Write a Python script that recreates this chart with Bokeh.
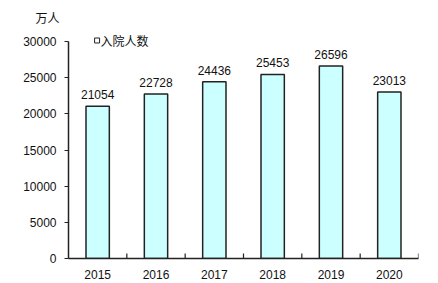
from bokeh.plotting import figure
from bokeh.models import ColumnDataSource, LabelSet, Label, FixedTicker, Range1d
from bokeh.core.properties import value
from bokeh.embed import file_html
from bokeh.resources import INLINE

years = ["2015", "2016", "2017", "2018", "2019", "2020"]
inpatients = [21054, 22728, 24436, 25453, 26596, 23013]
y_ticks = [0, 5000, 10000, 15000, 20000, 25000, 30000]
unit_label = "万人"
legend_label = "入院人数"

FONT = "Liberation Sans"
CJK = "Noto Sans CJK SC"

src = ColumnDataSource(dict(x=years, y=inpatients, txt=[str(v) for v in inpatients]))

TOP = 25
y_end = 30000 * (258 - TOP) / 217.0

p = figure(x_range=years, y_range=Range1d(0, y_end), width=438, height=283,
           output_backend="svg", toolbar_location=None,
           min_border_left=68, min_border_right=20, min_border_top=TOP, min_border_bottom=25,
           title=unit_label)
p.outline_line_color = None
p.grid.grid_line_color = None
p.background_fill_color = "white"
p.border_fill_color = "white"

p.title.text_font = CJK
p.title.text_font_size = "12px"
p.title.text_font_style = "normal"
p.title.text_color = "#111111"
p.title.align = "left"
p.title.offset = -33
p.title.standoff = 0

p.vbar(x="x", top="y", width=0.4, source=src, fill_color="#CCFFFF",
       line_color="#222222", line_width=1.5)

p.add_layout(LabelSet(x="x", y="y", text="txt", source=src, y_offset=7,
                      text_align="center", text_baseline="bottom",
                      text_font=value(FONT), text_font_size="12px", text_color="#111111"))

# y axis
ya = p.yaxis[0]
ya.ticker = FixedTicker(ticks=y_ticks)
ya.bounds = (0, 30000)
ya.axis_line_color = "#222222"
ya.axis_line_width = 1.5
ya.major_tick_out = 4
ya.major_tick_in = 0
ya.minor_tick_line_color = None
ya.major_tick_line_color = "#222222"
ya.major_label_text_font = FONT
ya.major_label_text_font_size = "12px"
ya.major_label_text_color = "#111111"
ya.major_label_standoff = 8

# x axis
xa = p.xaxis[0]
xa.axis_line_color = "#222222"
xa.axis_line_width = 1.5
xa.major_tick_line_color = None
xa.major_label_text_font = FONT
xa.major_label_text_font_size = "12px"
xa.major_label_text_color = "#111111"
xa.major_label_standoff = 5

# category boundary ticks pointing up
p.segment(x0=list(range(1, 7)), x1=list(range(1, 7)), y0=[0] * 6, y1=[700] * 6,
          line_color="#222222", line_width=1.2)

p.scatter(x=[0.49], y=[30140], marker="square", size=5, fill_color="white",
          line_color="#222222", line_width=1)
p.add_layout(Label(x=0.55, y=30140, text=legend_label, text_align="left",
                   text_baseline="middle", text_font=CJK, text_font_size="12px",
                   text_color="#111111"))

open("out.html", "w").write(file_html(p, INLINE))
